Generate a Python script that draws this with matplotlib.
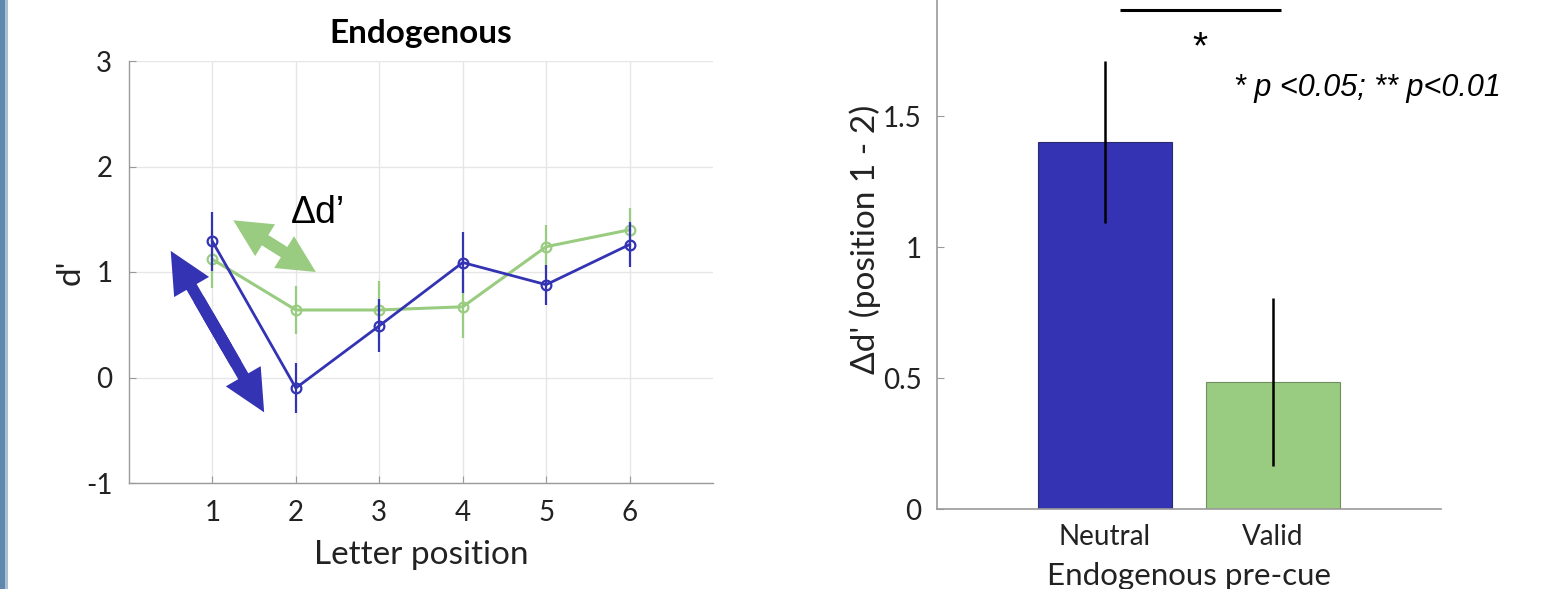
import matplotlib
matplotlib.use("Agg")
import matplotlib.pyplot as plt
from matplotlib.patches import FancyArrowPatch, Rectangle

# ---------------- data ----------------
positions = [1, 2, 3, 4, 5, 6]
neutral = [1.29, -0.10, 0.49, 1.09, 0.88, 1.26]
neutral_err = [0.28, 0.235, 0.25, 0.29, 0.19, 0.21]
valid = [1.12, 0.64, 0.64, 0.67, 1.24, 1.40]
valid_err = [0.27, 0.23, 0.27, 0.30, 0.21, 0.21]

bar_labels = ["Neutral", "Valid"]
bar_values = [1.40, 0.485]
bar_err = [0.31, 0.32]

left_yticks = [-1, 0, 1, 2, 3]
right_yticks = [0, 0.5, 1, 1.5]
right_yticklabels = ["0", "0.5", "1", "1.5"]

BLUE = "#3333b3"
GREEN = "#99cc80"
AXC = "#9a9a9a"
FONT = ["Lato", "DejaVu Sans"]
ARIAL = ["Liberation Sans", "DejaVu Sans"]

plt.rcParams["font.family"] = FONT
plt.rcParams["axes.unicode_minus"] = False

W, H = 1566, 589
fig = plt.figure(figsize=(W / 100, H / 100), dpi=100)
fig.patch.set_facecolor("white")

# left decorative strip
fig.add_artist(Rectangle((0, 0), 5 / W, 1, transform=fig.transFigure,
                         color="#5f88ac", lw=0, zorder=10))
fig.add_artist(Rectangle((5 / W, 0), 3 / W, 1, transform=fig.transFigure,
                         color="#a9c0d4", lw=0, zorder=10))

# ---------------- left panel ----------------
ax = fig.add_axes([129 / W, 1 - 483 / H, 584 / W, 422 / H])
ax.set_xlim(0, 7)
ax.set_ylim(-1, 3)
ax.set_xticks(positions)
ax.set_yticks(left_yticks)
ax.grid(True, color="#e6e6e6", lw=1)
ax.set_axisbelow(True)
for s in ("top", "right"):
    ax.spines[s].set_visible(False)
for s in ("left", "bottom"):
    ax.spines[s].set_color(AXC)
    ax.spines[s].set_linewidth(1)
ax.tick_params(direction="in", length=5, color=AXC, labelsize=20, pad=12,
               labelcolor="#222222")

ax.errorbar(positions, valid, yerr=valid_err, color=GREEN, lw=2.2,
            elinewidth=1.6, marker="o", ms=7, mfc="none", mew=1.6,
            mec=GREEN, capsize=0, zorder=3)
ax.errorbar(positions, neutral, yerr=neutral_err, color=BLUE, lw=2.0,
            elinewidth=1.6, marker="o", ms=7, mfc="none", mew=1.6,
            mec=BLUE, capsize=0, zorder=4)

ax.set_xlabel("Letter position", fontsize=24, color="#222222")
ax.xaxis.set_label_coords(0.5, -0.135)
ax.set_ylabel("d'", fontsize=24, color="#222222")
ax.yaxis.set_label_coords(-0.075, 0.5)
ax.text(0.5, 1.064, "Endogenous", transform=ax.transAxes, ha="center",
        va="center", fontsize=24, fontweight="bold",
        family=["Liberation Sans Narrow", "Lato", "DejaVu Sans"])


def double_arrow(a, p0, p1, color, ms, hl, hw, tw):
    style = f"simple,head_length={hl},head_width={hw},tail_width={tw}"
    for start, end in ((p1, p0), (p0, p1)):
        s = (start[0] + 0.4 * (end[0] - start[0]),
             start[1] + 0.4 * (end[1] - start[1]))
        a.add_patch(FancyArrowPatch(s, end, arrowstyle=style,
                                    mutation_scale=ms, color=color, lw=0,
                                    shrinkA=0, shrinkB=0, zorder=5,
                                    clip_on=False))
    # solid shaft through the middle to hide any seam
    q0 = (p0[0] + 0.3 * (p1[0] - p0[0]), p0[1] + 0.3 * (p1[1] - p0[1]))
    q1 = (p0[0] + 0.7 * (p1[0] - p0[0]), p0[1] + 0.7 * (p1[1] - p0[1]))
    a.plot([q0[0], q1[0]], [q0[1], q1[1]], color=color, lw=tw * ms,
           solid_capstyle="butt", zorder=5, clip_on=False)


double_arrow(ax, (0.50, 1.20), (1.62, -0.33), BLUE, 20, 1.5, 1.45, 0.42)
double_arrow(ax, (1.25, 1.49), (2.24, 1.00), GREEN, 20, 1.35, 1.35, 0.42)
ax.text(2.27, 1.56, "Δd’", fontsize=27, ha="center", va="center",
        family=ARIAL, color="black")

# ---------------- right panel ----------------
bx = fig.add_axes([937 / W, 1 - 509 / H, 504 / W, 509 / H])
bx.set_xlim(0, 3)
bx.set_ylim(0, 509 / 262)
xb = [1, 2]
bx.bar(xb, bar_values, width=0.8, color=[BLUE, GREEN],
       edgecolor=["#2a2a70", "#6f8f60"], lw=0.8, zorder=2)
bx.errorbar(xb, bar_values, yerr=bar_err, fmt="none", ecolor="black",
            elinewidth=1.8, capsize=0, zorder=3)
bx.set_xticks(xb)
bx.set_xticklabels(bar_labels)
bx.set_yticks(right_yticks)
bx.set_yticklabels(right_yticklabels)
for s in ("top", "right"):
    bx.spines[s].set_visible(False)
for s in ("left", "bottom"):
    bx.spines[s].set_color(AXC)
    bx.spines[s].set_linewidth(1.2)
bx.tick_params(direction="in", length=5, color=AXC, labelsize=20, pad=11,
               labelcolor="#222222")
bx.set_xlabel("Endogenous pre-cue", fontsize=22.5, color="#222222")
bx.xaxis.set_label_coords(0.5, -0.105)
bx.set_ylabel("Δd' (position 1 - 2)", fontsize=24, color="#222222")
bx.yaxis.set_label_coords(-0.112, 0.53)

# significance
bx.plot([1.09, 2.05], [1.905, 1.905], color="black", lw=2.2,
        solid_capstyle="butt", clip_on=False, zorder=4)
bx.text(1.565, 1.76, "*", fontsize=28, ha="center", va="center",
        family=ARIAL)
bx.text(2.56, 1.607, "* p <0.05; ** p<0.01", fontsize=22, ha="center",
        va="center", style="italic", family=ARIAL)

fig.savefig("out.png", dpi=100)
